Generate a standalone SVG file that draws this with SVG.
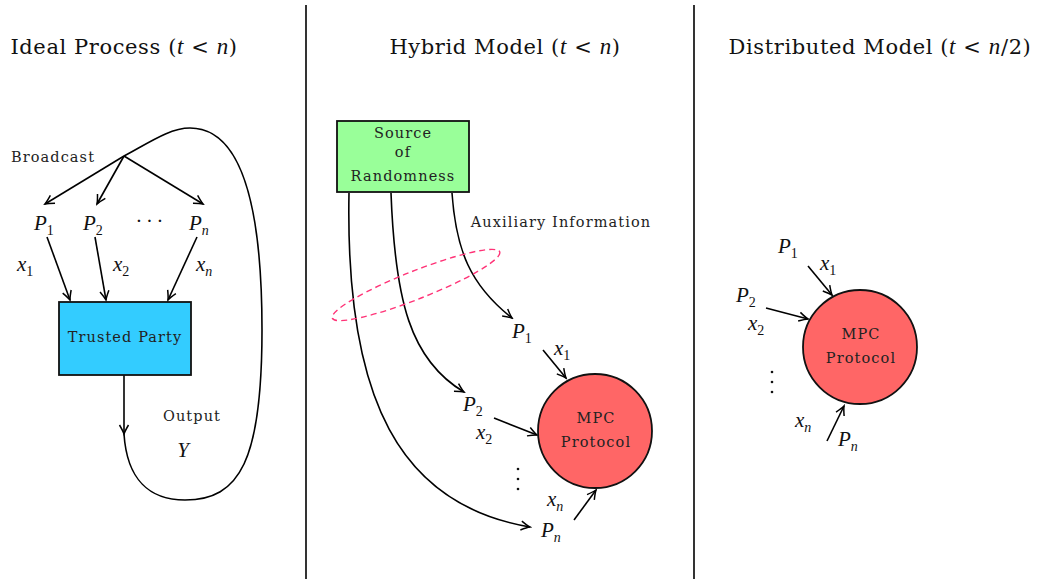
<svg xmlns="http://www.w3.org/2000/svg" width="1037" height="579" viewBox="0 0 1037 579">
<style>
.t{font-family:"DejaVu Serif","Liberation Serif",serif;font-size:21px;letter-spacing:0.6px;fill:#111}
.s{font-family:"DejaVu Serif","Liberation Serif",serif;font-size:14.5px;letter-spacing:1.1px;fill:#222;text-anchor:middle}
.m{font-family:"Liberation Serif","DejaVu Serif",serif;font-style:italic;font-size:21px;fill:#111}
.mi{font-family:"Liberation Serif","DejaVu Serif",serif;font-style:italic}
.sub{font-size:14px;font-style:normal}
.subi{font-size:14px}
.ln{fill:none;stroke:#000;stroke-width:1.6}
.bx{stroke:#111;stroke-width:1.8}
</style>
<defs>
<marker id="ah" viewBox="-10 -6 12 12" refX="0" refY="0" markerWidth="12" markerHeight="12" markerUnits="userSpaceOnUse" orient="auto">
<path d="M-9,-4.5 Q-3,-1 0,0 Q-3,1 -9,4.5" fill="none" stroke="#000" stroke-width="1.5"/>
</marker>
</defs>
<rect width="1037" height="579" fill="#fff"/>
<g id="dividers">
<line x1="306" y1="5" x2="306" y2="579" stroke="#000" stroke-width="1.6"/>
<line x1="694" y1="5" x2="694" y2="579" stroke="#000" stroke-width="1.6"/>
</g>
<g id="titles">
<text class="t" x="124" y="54" text-anchor="middle">Ideal Process (<tspan class="mi" font-size="23">t</tspan> &lt; <tspan class="mi" font-size="23">n</tspan>)</text>
<text class="t" x="505" y="54" text-anchor="middle">Hybrid Model (<tspan class="mi" font-size="23">t</tspan> &lt; <tspan class="mi" font-size="23">n</tspan>)</text>
<text class="t" x="880" y="54" text-anchor="middle">Distributed Model (<tspan class="mi" font-size="23">t</tspan> &lt; <tspan class="mi" font-size="23">n</tspan>/2)</text>
</g>
<g id="connectors">
<line class="ln" x1="124" y1="156" x2="45" y2="204" marker-end="url(#ah)"/>
<line class="ln" x1="124" y1="156" x2="97" y2="204" marker-end="url(#ah)"/>
<line class="ln" x1="124" y1="156" x2="203" y2="204" marker-end="url(#ah)"/>
<line class="ln" x1="47" y1="237" x2="70" y2="300" marker-end="url(#ah)"/>
<line class="ln" x1="95" y1="237" x2="106" y2="300" marker-end="url(#ah)"/>
<line class="ln" x1="197" y1="237" x2="168" y2="300" marker-end="url(#ah)"/>
<line class="ln" x1="124" y1="375" x2="124" y2="434" marker-end="url(#ah)"/>
<path class="ln" d="M124,434 C127,480 150,500 185,500 C240,500 262,460 262,330 C262,200 240,128 190,128 C170,128 150,142 124,156"/>
<path class="ln" d="M452,193 C456,250 470,285 512,318" marker-end="url(#ah)"/>
<path class="ln" d="M391,193 C395,300 410,360 464,392" marker-end="url(#ah)"/>
<path class="ln" d="M349,193 C345,400 400,505 530,527" marker-end="url(#ah)"/>
<line class="ln" x1="543" y1="350" x2="566" y2="378" marker-end="url(#ah)"/>
<line class="ln" x1="494" y1="418" x2="537" y2="435" marker-end="url(#ah)"/>
<line class="ln" x1="574" y1="520" x2="596" y2="490" marker-end="url(#ah)"/>
<line class="ln" x1="808" y1="266" x2="832" y2="295" marker-end="url(#ah)"/>
<line class="ln" x1="766" y1="308" x2="808" y2="319" marker-end="url(#ah)"/>
<line class="ln" x1="827" y1="441" x2="844" y2="406" marker-end="url(#ah)"/>
<ellipse cx="416" cy="285" rx="90" ry="14" transform="rotate(-21.6 416 285)" fill="none" stroke="#ff3377" stroke-width="1.4" stroke-dasharray="6,4"/>
</g>
<g id="ideal-labels">
<text class="s" x="53" y="162">Broadcast</text>
<text class="m" x="34" y="230">P<tspan class="sub" dy="5">1</tspan></text>
<text class="m" x="83" y="230">P<tspan class="sub" dy="5">2</tspan></text>
<text class="m" x="149" y="228" text-anchor="middle" font-style="normal">· · ·</text>
<text class="m" x="189" y="230">P<tspan class="subi" dy="5">n</tspan></text>
<text class="m" x="17" y="271">x<tspan class="sub" dy="5">1</tspan></text>
<text class="m" x="113" y="271">x<tspan class="sub" dy="5">2</tspan></text>
<text class="m" x="196" y="271">x<tspan class="subi" dy="5">n</tspan></text>
<text class="s" x="192" y="421">Output</text>
<text class="m" x="183" y="457" text-anchor="middle">Y</text>
</g>
<g id="trusted-party">
<rect class="bx" x="59" y="302" width="132" height="73" fill="#33ccff"/>
<text class="s" x="125" y="342">Trusted Party</text>
</g>
<g id="source">
<rect class="bx" x="337" y="121" width="132" height="71" fill="#99ff99"/>
<text class="s" x="403" y="138">Source</text>
<text class="s" x="403" y="157">of</text>
<text class="s" x="403" y="181">Randomness</text>
</g>
<g id="hybrid-labels">
<text class="s" x="561" y="227">Auxiliary Information</text>
<text class="m" x="512" y="338">P<tspan class="sub" dy="5">1</tspan></text>
<text class="m" x="554" y="355">x<tspan class="sub" dy="5">1</tspan></text>
<text class="m" x="463" y="411">P<tspan class="sub" dy="5">2</tspan></text>
<text class="m" x="476" y="439">x<tspan class="sub" dy="5">2</tspan></text>
<g fill="#111"><circle cx="518" cy="469" r="1.3"/><circle cx="518" cy="479" r="1.3"/><circle cx="518" cy="489" r="1.3"/></g>
<text class="m" x="547" y="506">x<tspan class="subi" dy="5">n</tspan></text>
<text class="m" x="541" y="537">P<tspan class="subi" dy="5">n</tspan></text>
</g>
<g id="mpc-hybrid">
<circle cx="595" cy="431" r="57" fill="#ff6666" stroke="#111" stroke-width="1.8"/>
<text class="s" x="596" y="423">MPC</text>
<text class="s" x="596" y="447">Protocol</text>
</g>
<g id="dist-labels">
<text class="m" x="778" y="253">P<tspan class="sub" dy="5">1</tspan></text>
<text class="m" x="820" y="270">x<tspan class="sub" dy="5">1</tspan></text>
<text class="m" x="736" y="302">P<tspan class="sub" dy="5">2</tspan></text>
<text class="m" x="748" y="330">x<tspan class="sub" dy="5">2</tspan></text>
<g fill="#111"><circle cx="772" cy="372" r="1.3"/><circle cx="772" cy="382" r="1.3"/><circle cx="772" cy="392" r="1.3"/></g>
<text class="m" x="795" y="427">x<tspan class="subi" dy="5">n</tspan></text>
<text class="m" x="838" y="446">P<tspan class="subi" dy="5">n</tspan></text>
</g>
<g id="mpc-dist">
<circle cx="860" cy="347" r="57" fill="#ff6666" stroke="#111" stroke-width="1.8"/>
<text class="s" x="861" y="339">MPC</text>
<text class="s" x="861" y="363">Protocol</text>
</g>
</svg>
